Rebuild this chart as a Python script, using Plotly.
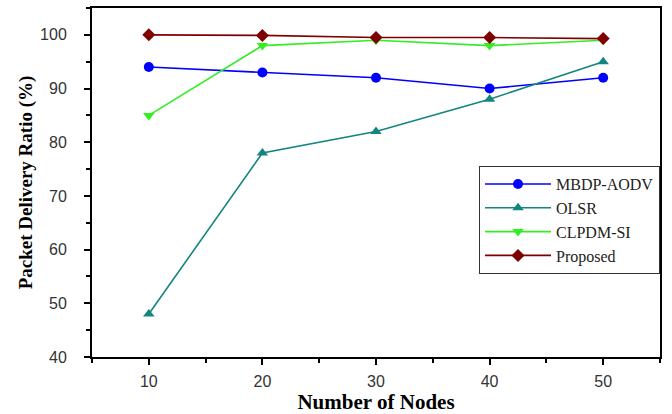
import plotly.graph_objects as go

nodes = [10, 20, 30, 40, 50]
mbdp_aodv = [94, 93, 92, 90, 92]
olsr = [48, 78, 82, 88, 95]
clpdm_si = [85, 98, 99, 98, 99]
proposed = [100, 99.9, 99.5, 99.5, 99.3]

series = [
    ("MBDP-AODV", mbdp_aodv, "#0000FF", "circle"),
    ("OLSR", olsr, "#13857E", "triangle-up"),
    ("CLPDM-SI", clpdm_si, "#33EE22", "triangle-down"),
    ("Proposed", proposed, "#7F0000", "diamond"),
]

fig = go.Figure()
for name, vals, color, sym in series:
    fig.add_trace(go.Scatter(
        x=nodes, y=vals, name=name, mode="lines+markers",
        line=dict(color=color, width=1.6),
        marker=dict(color=color, symbol=sym, size=10),
    ))

axis_common = dict(
    showgrid=False, zeroline=False, showline=True, linecolor="black",
    linewidth=2, mirror=True, ticks="outside", ticklen=6, tickwidth=2,
    tickcolor="black",
    tickfont=dict(family="Liberation Sans, Arial", size=16, color="#333333"),
)

fig.update_xaxes(
    range=[5, 55], tickvals=nodes, ticklabelstandoff=3, automargin=False,
    minor=dict(ticks="outside", ticklen=4, tickwidth=2, tickcolor="black", dtick=5, tick0=5),
    title=dict(text="<b>Number of Nodes</b>", font=dict(family="Liberation Serif, Times New Roman", size=21, color="black")),
    **axis_common,
)
fig.update_yaxes(
    range=[40, 105], tickvals=[40, 50, 60, 70, 80, 90, 100], ticklabelstandoff=14, automargin=True,
    minor=dict(ticks="outside", ticklen=4, tickwidth=2, tickcolor="black", dtick=5, tick0=5),
    title=dict(text="<b>Packet Delivery Ratio (%)</b>", font=dict(family="Liberation Serif, Times New Roman", size=19, color="black"), standoff=2),
    **axis_common,
)

fig.update_layout(
    width=672, height=414,
    margin=dict(l=92, r=12, t=8, b=57),
    plot_bgcolor="white", paper_bgcolor="white",
    legend=dict(
        x=1.0, y=0.547, xanchor="right", yanchor="top",
        bordercolor="#333333", borderwidth=1, bgcolor="white",
        font=dict(family="Liberation Serif, Times New Roman", size=16, color="#222222"),
        tracegroupgap=0, itemwidth=66,
    ),
)

fig.write_html("out.html")
